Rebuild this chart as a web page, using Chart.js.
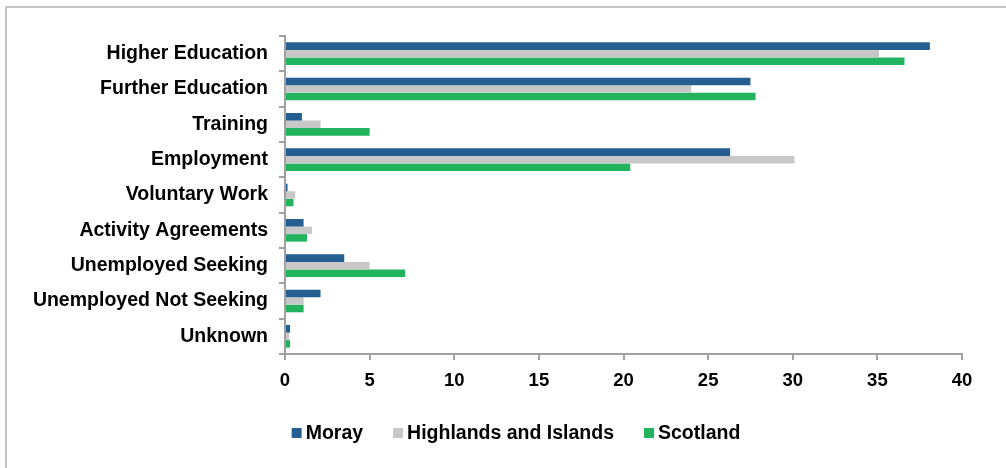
<!DOCTYPE html>
<html>
<head>
<meta charset="utf-8">
<script src="https://cdn.jsdelivr.net/npm/chart.js@4.4.0/dist/chart.umd.min.js"></script>
<style>
  html, body { margin: 0; padding: 0; background: #fff; }
  #wrap { position: relative; width: 1006px; height: 468px; overflow: hidden; }
  #frame { position: absolute; left: 5px; top: 6px; width: 1100px; height: 600px;
           border-top: 2px solid #c4c4c4; border-left: 2px solid #c4c4c4; }
  #box { position: absolute; left: 0; top: 0; width: 1006px; height: 468px; }
</style>
</head>
<body>
<div id="wrap">
  <div id="frame"></div>
  <div id="box"><canvas id="destChart"></canvas></div>
</div>
<script>
// destinations by category (%)
const categories = ["Higher Education", "Further Education", "Training", "Employment", "Voluntary Work",
  "Activity Agreements", "Unemployed Seeking", "Unemployed Not Seeking", "Unknown"];
const moray = [38.1, 27.5, 1.0, 26.3, 0.15, 1.1, 3.5, 2.1, 0.3];
const highlands = [35.1, 24.0, 2.1, 30.1, 0.6, 1.6, 5.0, 1.1, 0.25];
const scotland = [36.6, 27.8, 5.0, 20.4, 0.5, 1.3, 7.1, 1.1, 0.3];
const xTicks = [0, 5, 10, 15, 20, 25, 30, 35, 40];

const FONT = 'Liberation Sans, Arial, sans-serif';

// legend drawn under the plot: small squares, tight gap to the text
const bottomLegend = {
  id: 'bottomLegend',
  afterDraw(chart) {
    const c = chart.ctx;
    c.save();
    c.font = 'bold 19.5px ' + FONT;
    c.textBaseline = 'middle';
    const items = chart.data.datasets.map(ds => ({ text: ds.label, color: ds.backgroundColor, w: c.measureText(ds.label).width }));
    const box = 10, gap = 4, space = 30;
    const total = items.reduce((a, it) => a + box + gap + it.w, 0) + space * (items.length - 1);
    let x = 516 - total / 2;
    const y = 434;
    items.forEach(it => {
      c.fillStyle = it.color;
      c.fillRect(x, y - 6, box, box);
      c.fillStyle = '#000';
      c.fillText(it.text, x + box + gap, y);
      x += box + gap + it.w + space;
    });
    c.restore();
  }
};

const ctx = document.getElementById('destChart').getContext('2d');
new Chart(ctx, {
  type: 'bar',
  data: {
    labels: categories,
    datasets: [
      { label: 'Moray', data: moray, backgroundColor: '#255e91' },
      { label: 'Highlands and Islands', data: highlands, backgroundColor: '#c8c8c8' },
      { label: 'Scotland', data: scotland, backgroundColor: '#22b35f' }
    ]
  },
  plugins: [bottomLegend],
  options: {
    indexAxis: 'y',
    responsive: true, maintainAspectRatio: false, animation: false,
    datasets: { bar: { categoryPercentage: 0.64, barPercentage: 1.0, borderWidth: 0 } },
    layout: { padding: { top: 36, right: 44, bottom: 74, left: 0 } },
    plugins: { tooltip: { enabled: false }, legend: { display: false } },
    scales: {
      x: {
        min: 0, max: 40,
        afterBuildTicks: s => { s.ticks = xTicks.map(v => ({ value: v })); },
        afterFit: s => { s.height = 40; },
        grid: { drawOnChartArea: false, drawTicks: true, tickLength: 6, color: '#a0a0a0', lineWidth: 2 },
        border: { color: '#a0a0a0', width: 2 },
        ticks: { color: '#000', padding: 10, font: { family: FONT, size: 18.5, weight: 'bold' } }
      },
      y: {
        afterFit: s => { s.width = 285; },
        grid: { drawOnChartArea: false, drawTicks: true, tickLength: 6, color: '#a0a0a0', lineWidth: 2 },
        border: { color: '#a0a0a0', width: 2 },
        ticks: { color: '#000', padding: 11, font: { family: FONT, size: 19.5, weight: 'bold' } }
      }
    }
  }
});
</script>
</body>
</html>
